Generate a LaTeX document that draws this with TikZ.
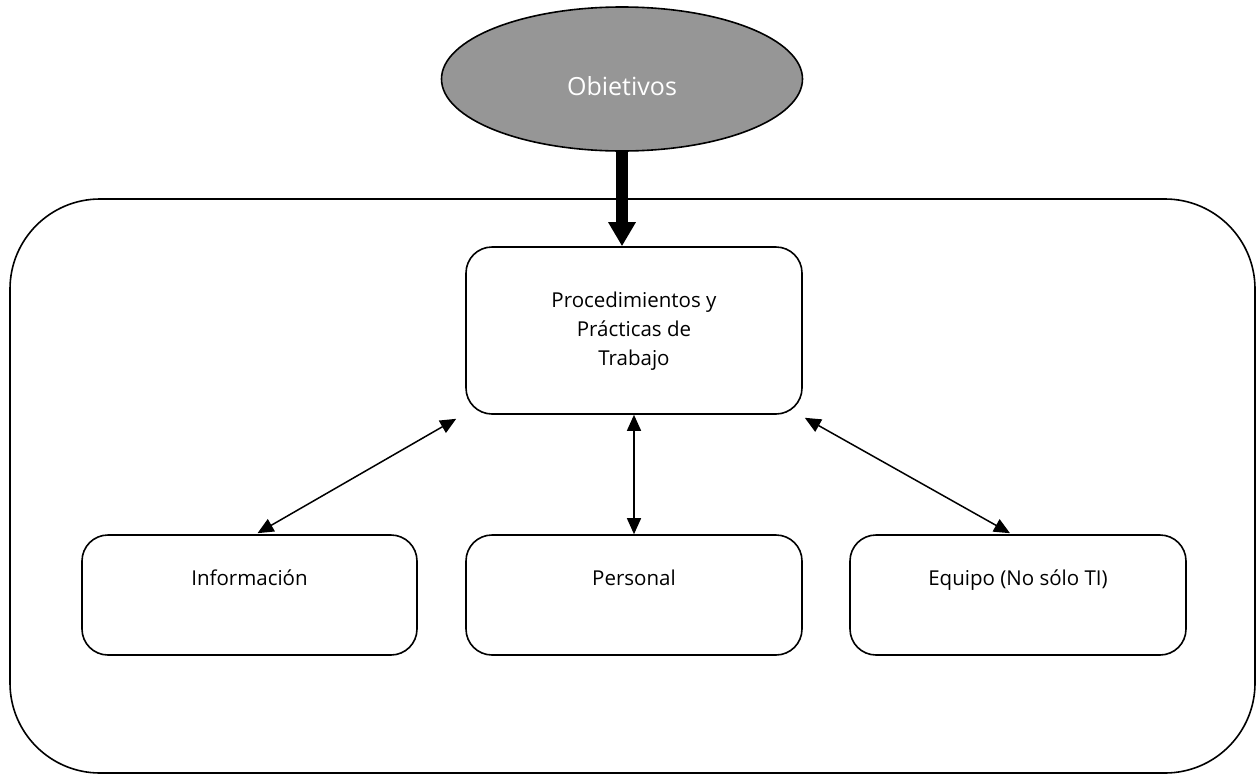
\documentclass[tikz,border=0pt]{standalone}
\usepackage{fontspec}
\setmainfont{Open Sans}
\usetikzlibrary{arrows.meta,calc,shapes.geometric}
\definecolor{ovalgray}{HTML}{969696}
\begin{document}
\begin{tikzpicture}[x=1pt,y=-1pt,
  box/.style={draw=black,line width=1.6pt,rounded corners=26pt,minimum width=336pt,inner sep=0pt},
  lbl/.style={font=\fontsize{20.5}{29}\selectfont,align=center,inner sep=0pt},
  dbl/.style={line width=1.5pt,{Triangle[length=16pt,width=14pt]}-{Triangle[length=16pt,width=14pt]}}
]
\useasboundingbox (0,0) rectangle (1256,774);
% outer frame
\draw[line width=1.6pt,rounded corners=90pt] (10,199) rectangle (1255,773);
% oval
\node[ellipse,draw=black,line width=1.6pt,fill=ovalgray,minimum width=361pt,minimum height=144pt,inner sep=0pt] (obj) at (622,79) {};
\node[font=\fontsize{25}{30}\selectfont,text=white,inner sep=0pt] (objt) at (622,86) {Obietivos};
% boxes
\node[box,minimum height=167pt] (proc) at (634,330.5) {};
\node[lbl] (proct) at (634,331) {Procedimientos y\\Prácticas de\\Trabajo};
\node[box,minimum width=335pt,minimum height=120pt] (info) at (249.5,595) {};
\node[lbl,anchor=base] (infot) at (249.5,585) {Información};
\node[box,minimum height=120pt] (pers) at (634,595) {};
\node[lbl,anchor=base] (perst) at (634,585) {Personal};
\node[box,minimum height=120pt] (equi) at (1018,595) {};
\node[lbl,anchor=base] (equit) at (1018,585) {Equipo (No sólo TI)};
% thick arrow
\draw[line width=12pt,-{Triangle[length=24pt,width=26pt]}] (obj.south) -- (obj.south |- proc.north);
% double arrows
\draw[dbl] ($(info.north)+(8,-1)$) -- ($(proc.south west)+(-9,4)$);
\draw[dbl] (proc.south) -- (pers.north);
\draw[dbl] ($(equi.north)+(-8,-1)$) -- ($(proc.south east)+(2,3)$);
\end{tikzpicture}
\end{document}
